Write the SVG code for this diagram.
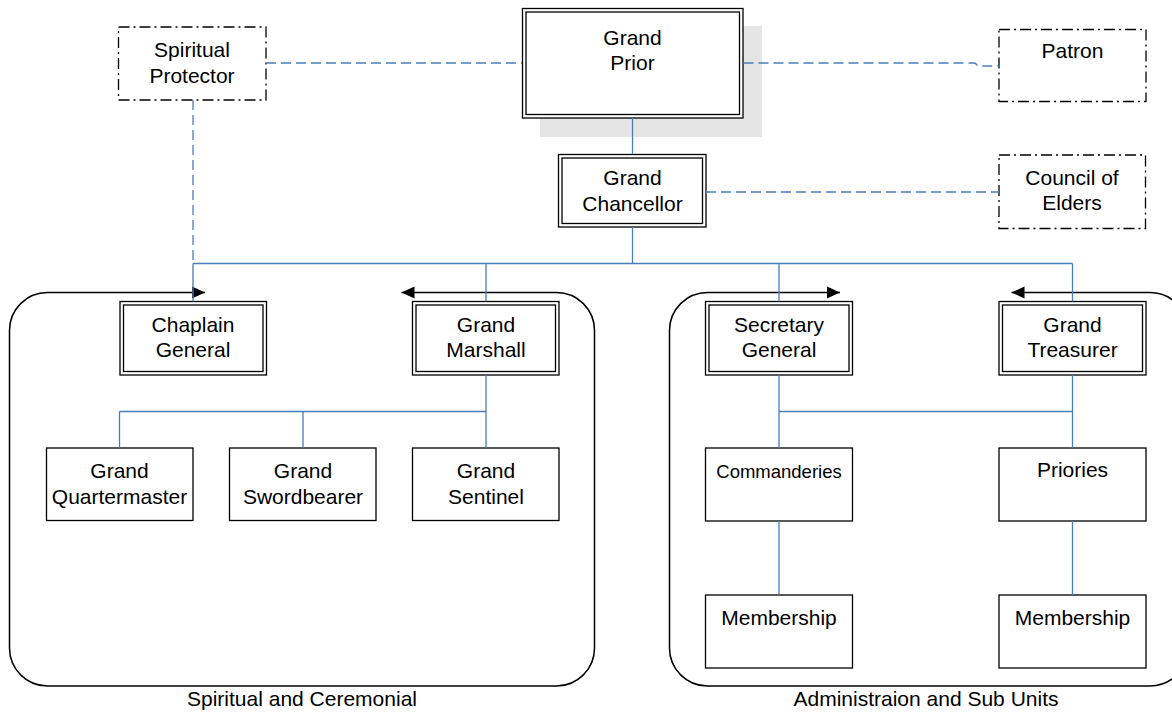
<svg xmlns="http://www.w3.org/2000/svg" width="1172" height="712" viewBox="0 0 1172 712">
<style>
.box{fill:#fff;stroke:#000;stroke-width:1.3}
.in{fill:none;stroke:#000;stroke-width:1.3}
.dd{fill:#fff;stroke:#000;stroke-width:1.3;stroke-dasharray:11 4 2 4}
.c{fill:none;stroke:#4a7ebb;stroke-width:1.3}
.cd{fill:none;stroke:#4a7ebb;stroke-width:1.3;stroke-dasharray:10 5}
.grp{fill:none;stroke:#000;stroke-width:1.5}
text{font-family:"Liberation Sans",Arial,sans-serif;font-size:21px;text-anchor:middle;fill:#000}
.sm{font-size:18.5px}
</style>
<defs>
<marker id="ah" markerUnits="userSpaceOnUse" markerWidth="14" markerHeight="14" refX="13" refY="6" orient="auto-start-reverse" viewBox="0 0 14 12">
<path d="M0,0 L13,6 L0,12 Z" fill="#000"/>
</marker>
</defs>

<g id="groups">
<path class="grp" d="M205,292.5 H47.5 A38,38 0 0 0 9.5,330.5 V648 A38,38 0 0 0 47.5,686 H556.5 A38,38 0 0 0 594.5,648 V330.5 A38,38 0 0 0 556.5,292.5 H401.5" marker-start="url(#ah)" marker-end="url(#ah)"/>
<path class="grp" d="M840,292.5 H707.5 A38,38 0 0 0 669.5,330.5 V648 A38,38 0 0 0 707.5,686 H1150 A38,38 0 0 0 1188,648 V330.5 A38,38 0 0 0 1150,292.5 H1011.5" marker-start="url(#ah)" marker-end="url(#ah)"/>
<text x="302" y="706">Spiritual and Ceremonial</text>
<text x="926" y="706">Administraion and Sub Units</text>
</g>

<g id="spiritual-protector">
<rect class="dd" x="118.5" y="27" width="147.5" height="73"/>
<text x="192" y="57">Spiritual</text>
<text x="192" y="83">Protector</text>
</g>

<g id="grand-prior">
<rect x="540" y="26" width="222" height="111" fill="#e5e5e5"/>
<rect class="box" x="522.5" y="8.5" width="220.5" height="109.5"/>
<rect class="in" x="526" y="12" width="213.5" height="102.5"/>
<text x="632.5" y="45">Grand</text>
<text x="632.5" y="70">Prior</text>
</g>

<g id="patron">
<rect class="dd" x="999" y="29.5" width="147" height="72"/>
<text x="1072.5" y="58">Patron</text>
</g>

<g id="grand-chancellor">
<rect class="box" x="558.5" y="154.5" width="147.5" height="72.5"/>
<rect class="in" x="562" y="158" width="140.5" height="65.5"/>
<text x="632.5" y="185">Grand</text>
<text x="632.5" y="211">Chancellor</text>
</g>

<g id="council-of-elders">
<rect class="dd" x="999" y="155" width="146.5" height="73.5"/>
<text x="1072" y="185">Council of</text>
<text x="1072" y="210">Elders</text>
</g>

<g id="chaplain-general">
<rect class="box" x="120" y="301.5" width="146.5" height="73.5"/>
<rect class="in" x="123.5" y="305" width="139.5" height="66.5"/>
<text x="193" y="332">Chaplain</text>
<text x="193" y="357">General</text>
</g>

<g id="grand-marshall">
<rect class="box" x="412.5" y="301.5" width="146.5" height="73.5"/>
<rect class="in" x="416" y="305" width="139.5" height="66.5"/>
<text x="486" y="332">Grand</text>
<text x="486" y="357">Marshall</text>
</g>

<g id="secretary-general">
<rect class="box" x="705.5" y="301.5" width="147" height="73.5"/>
<rect class="in" x="709" y="305" width="140" height="66.5"/>
<text x="779" y="332">Secretary</text>
<text x="779" y="357">General</text>
</g>

<g id="grand-treasurer">
<rect class="box" x="999" y="301.5" width="147" height="73.5"/>
<rect class="in" x="1002.5" y="305" width="140" height="66.5"/>
<text x="1072.5" y="332">Grand</text>
<text x="1072.5" y="357">Treasurer</text>
</g>

<g id="grand-quartermaster">
<rect class="box" x="46.5" y="448" width="146.5" height="72.5"/>
<text x="119.5" y="478">Grand</text>
<text x="119.5" y="504">Quartermaster</text>
</g>

<g id="grand-swordbearer">
<rect class="box" x="229.5" y="448" width="146.5" height="72.5"/>
<text x="303" y="478">Grand</text>
<text x="303" y="504">Swordbearer</text>
</g>

<g id="grand-sentinel">
<rect class="box" x="412.5" y="448" width="146.5" height="72.5"/>
<text x="486" y="478">Grand</text>
<text x="486" y="504">Sentinel</text>
</g>

<g id="commanderies">
<rect class="box" x="705.5" y="448" width="147" height="73"/>
<text class="sm" x="779" y="478">Commanderies</text>
</g>

<g id="priories">
<rect class="box" x="999" y="448" width="147" height="73"/>
<text x="1072.5" y="477">Priories</text>
</g>

<g id="membership-1">
<rect class="box" x="705.5" y="595" width="147" height="73"/>
<text x="779" y="625">Membership</text>
</g>

<g id="membership-2">
<rect class="box" x="999" y="595" width="147" height="73"/>
<text x="1072.5" y="625">Membership</text>
</g>

<g id="connectors">
<path class="cd" d="M266,63 H522"/>
<path class="cd" d="M743.5,63 H975 L978,66 H999"/>
<path class="cd" d="M706,192 H999"/>
<path class="cd" d="M193,100 V263.5"/>
<path class="c" d="M632.5,118 V154"/>
<path class="c" d="M632.5,227 V263.5"/>
<path class="c" d="M193,263.5 H1072.5"/>
<path class="c" d="M193,263.5 V301.5 M486,263.5 V301.5 M779,263.5 V301.5 M1072.5,263.5 V301.5"/>
<path class="c" d="M486,375 V411.5 M119.5,411.5 H486 M119.5,411.5 V448 M303,411.5 V448 M486,411.5 V448"/>
<path class="c" d="M779,375 V448 M1072.5,375 V448 M779,411.5 H1072.5"/>
<path class="c" d="M779,521 V595 M1072.5,521 V595"/>
</g>
</svg>
